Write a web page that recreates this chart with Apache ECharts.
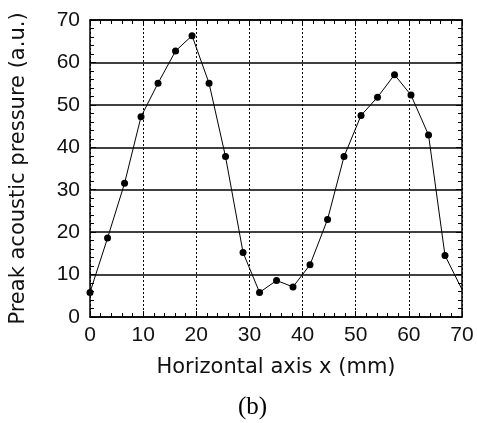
<!DOCTYPE html>
<html>
<head>
<meta charset="utf-8">
<script src="https://cdn.jsdelivr.net/npm/echarts@6/dist/echarts.min.js"></script>
<style>
html,body{margin:0;padding:0;background:#fff;}
#c{width:477px;height:423px;}
</style>
</head>
<body>
<div id="c"></div>
<script>
// Horizontal position x (mm)
const xValues = [0, 3.3, 6.5, 9.6, 12.8, 16.1, 19.2, 22.4, 25.5, 28.8, 31.9, 35.1, 38.2, 41.4, 44.7, 47.8, 51.0, 54.1, 57.3, 60.4, 63.7, 66.8, 70];
// Peak acoustic pressure (a.u.)
const pressure = [5.8, 18.6, 31.5, 47.2, 55.1, 62.7, 66.3, 55.1, 37.8, 15.2, 5.8, 8.6, 7.1, 12.3, 23.0, 37.8, 47.5, 51.8, 57.1, 52.3, 42.9, 14.5, 6.5];
const xTicks = [0, 10, 20, 30, 40, 50, 60, 70];
const yTicks = [0, 10, 20, 30, 40, 50, 60, 70];
const xTitle = 'Horizontal axis x (mm)';
const yTitle = 'Preak acoustic pressure (a.u.)';
const caption = '(b)';

const points = xValues.map((x, i) => [x, pressure[i]]);
const lastIndex = points.length - 1;

const tickFont = {color: '#111', fontFamily: 'Liberation Sans, Arial, sans-serif', fontSize: 21};
const nameFont = {color: '#111', fontFamily: 'DejaVu Sans, sans-serif', fontSize: 21};

const chart = echarts.init(document.getElementById('c'), null, {renderer: 'canvas'});

function baseAxis(ticks, extra) {
  return Object.assign({
    type: 'value',
    min: ticks[0],
    max: ticks[ticks.length - 1],
    interval: ticks[1] - ticks[0],
    axisLine: {show: true, onZero: false, lineStyle: {color: '#000', width: 1.5}},
    axisTick: {show: true, inside: true, length: 6, lineStyle: {color: '#000', width: 1}},
    minorTick: {show: true, splitNumber: 5, length: 4, lineStyle: {color: '#000', width: 1}},
    splitLine: {show: false}
  }, extra);
}

chart.setOption({
  animation: false,
  backgroundColor: '#fff',
  grid: {left: 88, right: 15, top: 20, bottom: 106, containLabel: false},
  xAxis: [
    baseAxis(xTicks, {
      position: 'bottom',
      name: xTitle,
      nameLocation: 'middle',
      nameGap: 40,
      nameTextStyle: nameFont,
      axisLabel: Object.assign({margin: 8}, tickFont),
      splitLine: {show: true, lineStyle: {color: '#000', width: 1, type: [2, 2]}}
    }),
    baseAxis(xTicks, {
      position: 'top',
      axisLabel: {show: false}
    })
  ],
  yAxis: [
    baseAxis(yTicks, {
      position: 'left',
      name: yTitle,
      nameLocation: 'middle',
      nameGap: 61,
      nameTextStyle: nameFont,
      axisLabel: Object.assign({margin: 10}, tickFont),
      splitLine: {show: true, lineStyle: {color: '#000', width: 1.5, type: 'solid'}}
    }),
    baseAxis(yTicks, {
      position: 'right',
      axisLabel: {show: false}
    })
  ],
  graphic: [{
    type: 'text',
    left: 238,
    top: 395,
    style: {text: caption, fill: '#000', font: '25px "Liberation Serif", "Times New Roman", serif'}
  }],
  series: [{
    type: 'line',
    data: points,
    xAxisIndex: 0,
    yAxisIndex: 0,
    symbol: 'circle',
    symbolSize: (v, p) => p.dataIndex === lastIndex ? 0 : 7,
    itemStyle: {color: '#000'},
    lineStyle: {color: '#000', width: 1},
    clip: true
  }]
});
</script>
</body>
</html>
